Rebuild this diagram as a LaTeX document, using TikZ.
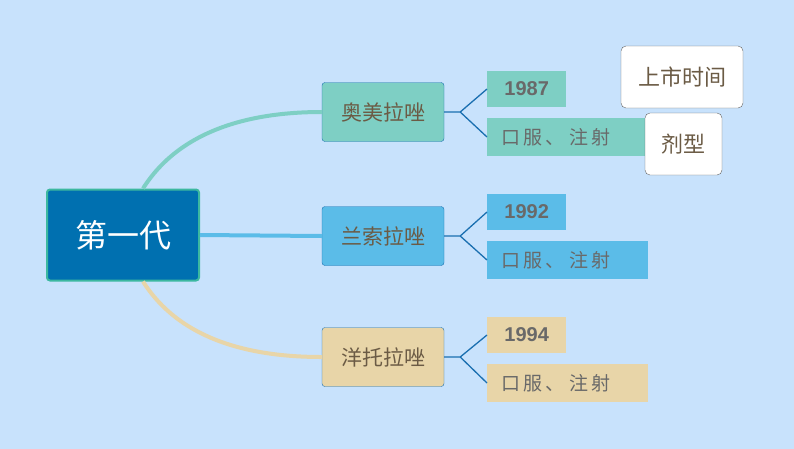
\documentclass[tikz,border=0pt]{standalone}
\usepackage{fontspec}
\setmainfont{Noto Sans CJK SC}
\newfontfamily\numfont{Liberation Sans}
\usetikzlibrary{positioning}
\definecolor{bgblue}{RGB}{200,226,252}
\definecolor{rootblue}{RGB}{0,112,176}
\definecolor{rootedge}{RGB}{60,184,160}
\definecolor{tealc}{RGB}{126,207,196}
\definecolor{bluec}{RGB}{91,188,232}
\definecolor{sandc}{RGB}{232,213,168}
\definecolor{brk}{RGB}{26,111,176}
\definecolor{txtc}{RGB}{107,91,69}
\definecolor{numc}{RGB}{105,105,105}
\tikzset{
  drug/.style={draw=brk,rounded corners=3pt,minimum width=122pt,minimum height=59pt,font=\fontsize{21}{21}\selectfont,text=txtc},
  yearbox/.style={anchor=west,minimum width=79pt,minimum height=36pt,font=\numfont\bfseries\fontsize{20}{20}\selectfont,text=numc,inner xsep=14pt,align=left},
  formbox/.style={anchor=west,minimum height=38pt,font=\fontsize{19}{19}\selectfont,text=numc,text width=133pt,inner xsep=14pt},
  tag/.style={draw=gray!80!black,fill=white,rounded corners=5pt,font=\fontsize{22}{22}\selectfont,text=txtc},
  brace/.style={draw=brk,line width=1.3pt}
}
\newcommand\formtext{口\kern3pt 服\kern3pt 、\kern5pt 注\kern3pt 射}
\begin{document}
\begin{tikzpicture}[x=1pt,y=-1pt]
\useasboundingbox (0,0) rectangle (794,448);
\fill[bgblue,overlay] (-5,-5) rectangle (800,455);

\node[draw=rootedge,line width=2pt,fill=rootblue,rounded corners=3pt,minimum width=152pt,minimum height=91pt,text=white,font=\fontsize{32}{32}\selectfont] (root) at (123,235) {第一代};

\node[drug,fill=tealc] (aomei) at (383,112) {奥美拉唑};
\node[drug,fill=bluec] (lansuo) at (383,236) {兰索拉唑};
\node[drug,fill=sandc] (yangtuo) at (383,357) {洋托拉唑};

\draw[tealc,line width=4pt] (root.north) ++(20,0) .. controls (180,130) and (250,112) .. (aomei.west);
\draw[bluec,line width=4pt] (root.east) -- (lansuo.west);
\draw[sandc,line width=4pt] (root.south) ++(20,0) .. controls (180,340) and (250,357) .. (yangtuo.west);

\node[yearbox,fill=tealc] (y1) at (487,89) {1987};
\node[formbox,fill=tealc] (f1) at (487,137) {\formtext};
\node[yearbox,fill=bluec] (y2) at (487,212) {1992};
\node[formbox,fill=bluec] (f2) at (487,260) {\formtext};
\node[yearbox,fill=sandc] (y3) at (487,335) {1994};
\node[formbox,fill=sandc] (f3) at (487,383) {\formtext};

\foreach \d/\y/\f in {aomei/y1/f1,lansuo/y2/f2,yangtuo/y3/f3}{
  \coordinate (k) at ([xshift=16pt]\d.east);
  \draw[brace] (\d.east) -- (k) -- (\y.west);
  \draw[brace] (k) -- (\f.west);
}

\node[tag,minimum width=122pt,minimum height=62pt] (shijian) at (682,77) {上市时间};
\node[tag,minimum width=77pt,minimum height=62pt] (jixing) at (683.5,144) {剂型};
\end{tikzpicture}
\end{document}
